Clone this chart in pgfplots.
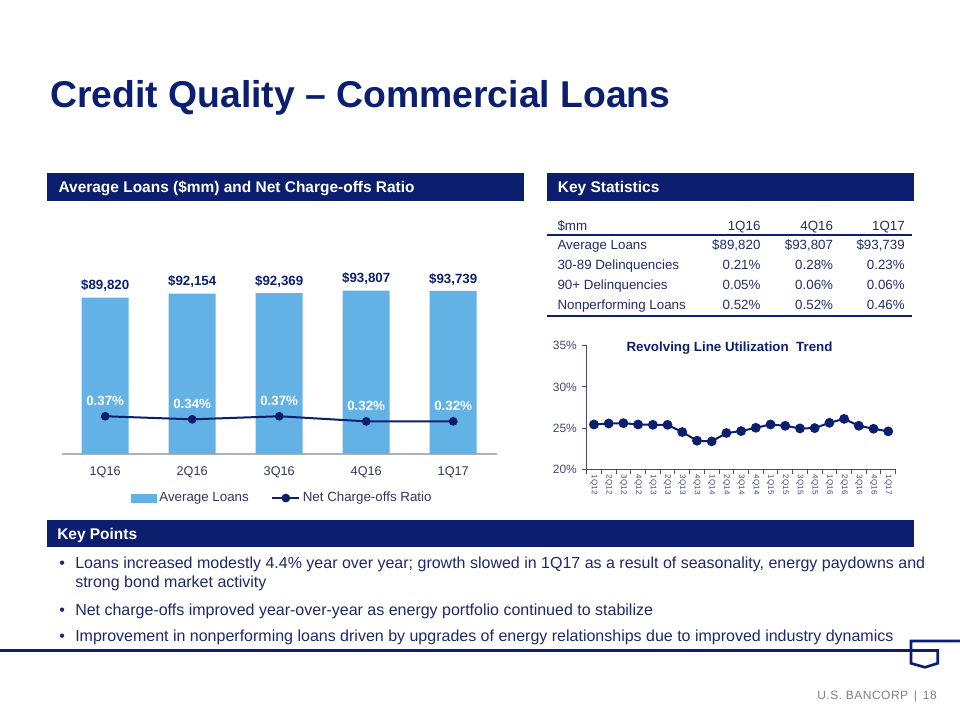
\documentclass[border=0pt]{standalone}
\usepackage{fontspec}
\setmainfont{Liberation Sans}
\usepackage{pgfplots}
\pgfplotsset{compat=1.18}
\definecolor{navy}{RGB}{12,31,110}
\definecolor{bodytext}{RGB}{30,40,105}
\definecolor{tabtext}{RGB}{35,45,100}
\definecolor{barblue}{RGB}{99,178,229}
\definecolor{axisc}{RGB}{70,75,120}
\definecolor{labelc}{RGB}{50,55,85}
\definecolor{footgray}{RGB}{128,128,128}
\newcommand{\fs}[1]{\fontsize{#1}{#1}\selectfont}
\begin{document}
\begin{tikzpicture}
\begin{scope}[x=0.75pt,y=-0.75pt]
\useasboundingbox (0,0) rectangle (960,720);
\fill[white] (0,0) rectangle (960,720);

% title
\node[anchor=base west, inner sep=0pt, text=navy, font=\fs{28}\bfseries] at (50,108) {Credit Quality -- Commercial Loans};

% header bars
\fill[navy] (47.3,173.3) rectangle (524,201);
\node[anchor=base west, inner sep=0pt, text=white, font=\fs{11.6}\bfseries] at (58.3,192.5) {Average Loans (\$mm) and Net Charge-offs Ratio};
\fill[navy] (546.7,173.3) rectangle (914,201);
\node[anchor=base west, inner sep=0pt, text=white, font=\fs{11.6}\bfseries] at (557.7,192.5) {Key Statistics};
\fill[navy] (47.3,520) rectangle (914,547);
\node[anchor=base west, inner sep=0pt, text=white, font=\fs{11.6}\bfseries] at (57,539) {Key Points};

% key statistics table
\begin{scope}[every node/.style={inner sep=0pt, text=tabtext, font=\fs{10}}]
\node[anchor=base west] at (557.3,230.5) {\$mm};
\node[anchor=base east] at (760.7,230.5) {1Q16};
\node[anchor=base east] at (833.3,230.5) {4Q16};
\node[anchor=base east] at (905,230.5) {1Q17};
\node[anchor=base west] at (557.3,249.5) {Average Loans};
\node[anchor=base east] at (760.7,249.5) {\$89,820};
\node[anchor=base east] at (833.3,249.5) {\$93,807};
\node[anchor=base east] at (905,249.5) {\$93,739};
\node[anchor=base west] at (557.3,269.6) {30-89 Delinquencies};
\node[anchor=base east] at (760.7,269.6) {0.21\%};
\node[anchor=base east] at (833.3,269.6) {0.28\%};
\node[anchor=base east] at (905,269.6) {0.23\%};
\node[anchor=base west] at (557.3,289.7) {90+ Delinquencies};
\node[anchor=base east] at (760.7,289.7) {0.05\%};
\node[anchor=base east] at (833.3,289.7) {0.06\%};
\node[anchor=base east] at (905,289.7) {0.06\%};
\node[anchor=base west] at (557.3,310) {Nonperforming Loans};
\node[anchor=base east] at (760.7,310) {0.52\%};
\node[anchor=base east] at (833.3,310) {0.52\%};
\node[anchor=base east] at (905,310) {0.46\%};
\end{scope}
\draw[navy, line width=1.1pt] (546.7,235) -- (911.7,235);
\draw[navy, line width=1.1pt] (546.7,316) -- (911.7,316);

% right chart title
\node[inner sep=0pt, text=navy, font=\fs{10}\bfseries] at (729.5,348.3) {Revolving Line Utilization\ \ Trend};

% key points bullets
\begin{scope}[every node/.style={inner sep=0pt, anchor=base west, text=bodytext, font=\fs{12}}]
\node at (59,568.3) {•};
\node at (75,568.3) {Loans increased modestly 4.4\% year over year; growth slowed in 1Q17 as a result of seasonality, energy paydowns and};
\node at (75,587.3) {strong bond market activity};
\node at (59,615) {•};
\node at (75,615) {Net charge-offs improved year-over-year as energy portfolio continued to stabilize};
\node at (59,641.3) {•};
\node at (75,641.3) {Improvement in nonperforming loans driven by upgrades of energy relationships due to improved industry dynamics};
\end{scope}

% logo line
\draw[navy, line width=2pt, line join=miter] (0,650.5) -- (937.7,650.5) -- (937.7,663.3) -- (925,667.3) -- (911,663.3) -- (911,641) -- (960,641);

% footer
\node[anchor=base east, inner sep=0pt, text=footgray, font=\fs{9}\addfontfeature{LetterSpace=4}] at (937,699) {U.S. BANCORP \,|\, 18};
\end{scope}

% left chart: bars
\begin{axis}[at={(46.275pt,-340.5pt)}, anchor=south west, scale only axis,
  width=326.25pt, height=130.6pt, xmin=-0.5, xmax=4.5, ymin=0, ymax=100000,
  clip=false, axis x line=bottom, axis y line=none,
  x axis line style={draw=gray!60, line width=0.8pt, -},
  xtick={0,1,2,3,4}, xticklabels={1Q16,2Q16,3Q16,4Q16,1Q17},
  major tick length=0pt,
  xticklabel style={font=\fs{9.5}, text=labelc, yshift=-6pt},
  ytick=\empty]
\addplot[ybar, bar width=35.25pt, fill=barblue, draw=none,
  nodes near coords={\pgfplotspointmeta}, point meta=explicit symbolic,
  nodes near coords style={anchor=base, inner sep=0pt, yshift=5.8pt, font=\fs{10}\bfseries, text=navy}]
  coordinates {(0,89820) [{\$89,820}] (1,92154) [{\$92,154}] (2,92369) [{\$92,369}] (3,93807) [{\$93,807}] (4,93739) [{\$93,739}]};
\end{axis}

% left chart: net charge-offs line (secondary axis)
\begin{axis}[at={(46.275pt,-340.5pt)}, anchor=south west, scale only axis,
  width=326.25pt, height=130.6pt, xmin=-0.5, xmax=4.5, ymin=0, ymax=1.707,
  clip=false, axis lines=none, xtick=\empty, ytick=\empty,
  legend columns=2,
  legend style={at={(0.508,-0.253)}, anchor=center, draw=none, fill=none,
    font=\fs{10}, text=labelc, inner sep=0pt,
    /tikz/every even column/.append style={column sep=15pt}},
  ]
\addlegendimage{legend image code/.code={\fill[barblue] (0pt,-3pt) rectangle (18.75pt,3pt);}}
\addlegendentry{Average Loans}
\addplot[navy, line width=1.5pt, mark=*, mark size=2.5pt, mark options={fill=navy},
  nodes near coords={\pgfplotspointmeta}, point meta=explicit symbolic,
  nodes near coords style={anchor=base, inner sep=0pt, yshift=8.4pt, font=\fs{10}\bfseries, text=white},
  legend image code/.code={\draw[navy, line width=1.5pt] (0pt,0pt) -- (20pt,0pt); \fill[navy] (10pt,0pt) circle (2.5pt);}]
  coordinates {(0,0.37) [{0.37\%}] (1,0.34) [{0.34\%}] (2,0.37) [{0.37\%}] (3,0.32) [{0.32\%}] (4,0.32) [{0.32\%}]};
\addlegendentry{Net Charge-offs Ratio}
\end{axis}

% right chart: revolving line utilization
\begin{axis}[at={(439.95pt,-351.975pt)}, anchor=south west, scale only axis,
  width=231.75pt, height=92.7pt, xmin=-0.5, xmax=20.5, ymin=20, ymax=35,
  axis x line=bottom, axis y line=left,
  axis line style={draw=axisc, line width=0.75pt, -},
  tick align=outside, major tick length=3.75pt,
  tick style={draw=axisc, line width=0.75pt},
  ytick={20,25,30,35},
  yticklabel={\pgfmathprintnumber{\tick}\%},
  yticklabel style={font=\fs{9}, text=axisc},
  /pgf/number format/assume math mode=true,
  xtick={-0.5,0.5,...,20.5}, xticklabels={},
  extra x ticks={0,1,...,20},
  extra x tick labels={1Q12,2Q12,3Q12,4Q12,1Q13,2Q13,3Q13,4Q13,1Q14,2Q14,3Q14,4Q14,1Q15,2Q15,3Q15,4Q15,1Q16,2Q16,3Q16,4Q16,1Q17},
  extra x tick style={major tick length=0pt},
  xticklabel style={rotate=-90, anchor=west, inner sep=4pt, font=\fs{6}, text=axisc},
  ]
\addplot[navy, line width=1.5pt, mark=*, mark size=2.9pt, mark options={fill=navy}]
  coordinates {(0,25.44) (1,25.56) (2,25.6) (3,25.44) (4,25.4) (5,25.4) (6,24.52) (7,23.47) (8,23.39) (9,24.4) (10,24.64) (11,25.04) (12,25.44) (13,25.28) (14,24.96) (15,25.0) (16,25.64) (17,26.12) (18,25.28) (19,24.92) (20,24.6)};
\end{axis}
\end{tikzpicture}
\end{document}
